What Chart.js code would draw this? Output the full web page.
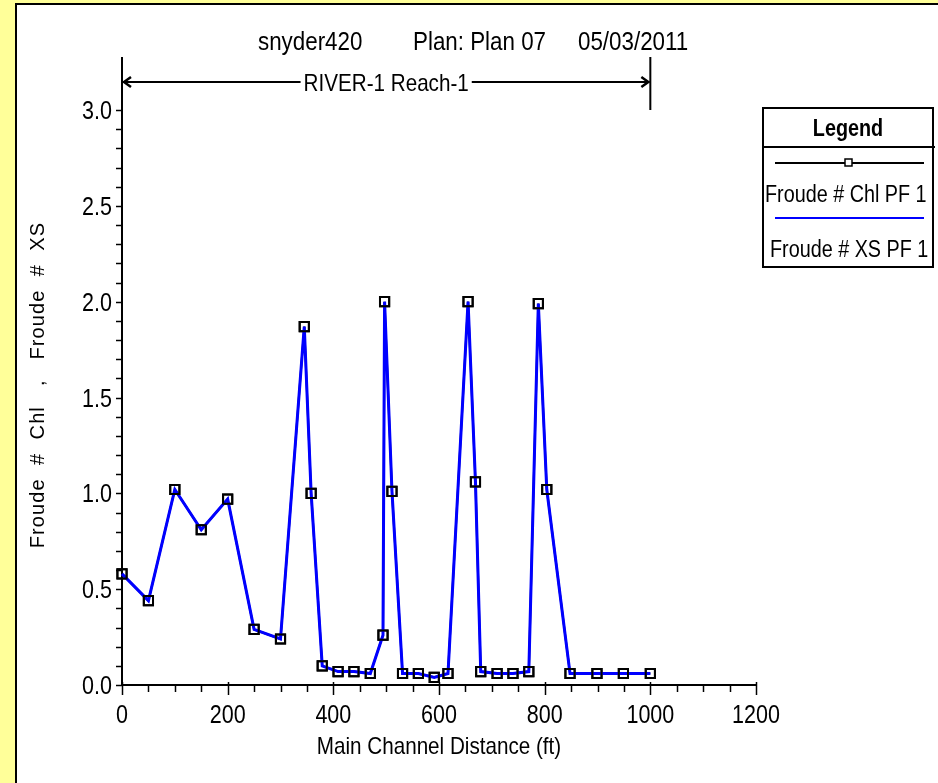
<!DOCTYPE html>
<html>
<head>
<meta charset="utf-8">
<script src="https://cdn.jsdelivr.net/npm/chart.js@4/dist/chart.umd.min.js"></script>
<style>
  html, body { margin: 0; padding: 0; }
  body { width: 938px; height: 783px; overflow: hidden; background: #ffff99; position: relative; }
  #panel { position: absolute; left: 15px; top: 3px; width: 1000px; height: 900px; background: #fff; border-left: 2px solid #000; border-top: 2px solid #000; }
  #chartCanvas { position: absolute; left: 0; top: 0; }
</style>
</head>
<body>
<div id="panel"></div>
<canvas id="chartCanvas" width="938" height="783"></canvas>
<script>
var distance = [0, 50, 100, 150, 200, 250, 300, 345, 358, 379, 409, 439, 470, 494, 497, 511,
  531, 561, 591, 617, 655, 669, 679, 710, 740, 770, 788, 804, 848, 899, 949, 1000];
var froudeChl = [0.58, 0.44, 1.02, 0.81, 0.97, 0.29, 0.24, 1.87, 1.00, 0.10, 0.07, 0.07, 0.06, 0.26, 2.00, 1.01,
  0.06, 0.06, 0.04, 0.06, 2.00, 1.06, 0.07, 0.06, 0.06, 0.07, 1.99, 1.02, 0.06, 0.06, 0.06, 0.06];
var froudeXs = [0.58, 0.44, 1.02, 0.81, 0.97, 0.29, 0.24, 1.87, 1.00, 0.10, 0.07, 0.07, 0.06, 0.26, 2.00, 1.01,
  0.06, 0.06, 0.04, 0.06, 2.00, 1.06, 0.07, 0.06, 0.06, 0.07, 1.99, 1.02, 0.06, 0.06, 0.06, 0.06];
var xTickValues = [0, 200, 400, 600, 800, 1000, 1200];
var xTickLabels = ['0', '200', '400', '600', '800', '1000', '1200'];
var yTickValues = [0, 0.5, 1, 1.5, 2, 2.5, 3];
var yTickLabels = ['0.0', '0.5', '1.0', '1.5', '2.0', '2.5', '3.0'];
var seriesNames = ['Froude # Chl PF 1', 'Froude # XS PF 1'];
var reachName = 'RIVER-1 Reach-1';
var reachStart = 0;
var reachEnd = 1000;
var titleParts = ['snyder420', 'Plan: Plan 07', '05/03/2011'];
var xTitle = 'Main Channel Distance (ft)';
var yTitle = 'Froude  #  Chl   ,   Froude  #  XS';

var SANS = "'Liberation Sans', Arial, sans-serif";
var SQUEEZE = 0.86;

function toPoints(xs, ys) {
  var out = [];
  for (var i = 0; i < xs.length; i += 1) out.push({ x: xs[i], y: ys[i] });
  return out;
}

// Arial Narrow is not installed, so squeeze Liberation Sans horizontally
function narrowText(ctx, text, x, y, size, align, bold) {
  ctx.save();
  ctx.font = (bold ? 'bold ' : '') + size + 'px ' + SANS;
  ctx.textAlign = align || 'left';
  ctx.textBaseline = 'alphabetic';
  ctx.translate(x, y);
  ctx.scale(SQUEEZE, 1);
  ctx.fillText(text, 0, 0);
  ctx.restore();
}

function narrowWidth(ctx, text, size) {
  ctx.save();
  ctx.font = size + 'px ' + SANS;
  var w = ctx.measureText(text).width * SQUEEZE;
  ctx.restore();
  return w;
}

var extras = {
  id: 'extras',
  afterDatasetsDraw: function (chart) {
    // channel markers sit above the blue line
    var ctx = chart.ctx;
    ctx.save();
    chart.getDatasetMeta(0).data.forEach(function (p) { p.draw(ctx); });
    ctx.restore();
  },
  afterDraw: function (chart) {
    var ctx = chart.ctx;
    var xs = chart.scales.x;
    var ys = chart.scales.y;
    var area = chart.chartArea;
    ctx.save();
    ctx.strokeStyle = '#000';
    ctx.fillStyle = '#000';

    // ticks
    ctx.lineWidth = 1.5;
    for (var v = 0; v <= 1200; v += 50) {
      var px = Math.round(xs.getPixelForValue(v)) + 0.5;
      var major = v % 200 === 0;
      ctx.beginPath();
      ctx.moveTo(px, area.bottom - (major ? 3 : 0));
      ctx.lineTo(px, area.bottom + (major ? 10 : 7));
      ctx.stroke();
    }
    for (var k = 0; k <= 30; k += 1) {
      var py = Math.round(ys.getPixelForValue(k / 10)) + 0.5;
      ctx.beginPath();
      ctx.moveTo(area.left - 6, py);
      ctx.lineTo(area.left, py);
      ctx.stroke();
    }

    // tick labels
    xTickValues.forEach(function (val, i) {
      narrowText(ctx, xTickLabels[i], xs.getPixelForValue(val), area.bottom + 38, 25, 'center');
    });
    yTickValues.forEach(function (val, i) {
      narrowText(ctx, yTickLabels[i], area.left - 10, ys.getPixelForValue(val) + 9, 25, 'right');
    });

    // title
    narrowText(ctx, titleParts[0], 258, 50, 26, 'left');
    narrowText(ctx, titleParts[1], 413, 50, 26, 'left');
    narrowText(ctx, titleParts[2], 578, 50, 26, 'left');

    // reach bracket
    var x0 = xs.getPixelForValue(reachStart);
    var x1 = xs.getPixelForValue(reachEnd);
    var by = 82;
    ctx.lineWidth = 2;
    ctx.beginPath();
    ctx.moveTo(x0, 57); ctx.lineTo(x0, area.top);
    ctx.moveTo(x1, 57); ctx.lineTo(x1, 110);
    ctx.stroke();
    var tw = narrowWidth(ctx, reachName, 24);
    var mid = (x0 + x1) / 2;
    ctx.beginPath();
    ctx.moveTo(x0 + 1, by); ctx.lineTo(mid - tw / 2 - 3, by);
    ctx.moveTo(mid + tw / 2 + 3, by); ctx.lineTo(x1 - 1, by);
    ctx.stroke();
    ctx.lineWidth = 2.5;
    ctx.beginPath();
    ctx.moveTo(x0 + 9, by - 5); ctx.lineTo(x0 + 2, by); ctx.lineTo(x0 + 9, by + 5);
    ctx.moveTo(x1 - 9, by - 5); ctx.lineTo(x1 - 2, by); ctx.lineTo(x1 - 9, by + 5);
    ctx.stroke();
    narrowText(ctx, reachName, mid, by + 9, 24, 'center');

    // axis titles
    narrowText(ctx, xTitle, (area.left + area.right) / 2, 754, 24, 'center');
    ctx.save();
    ctx.translate(38, 385);
    ctx.rotate(-Math.PI / 2);
    ctx.font = '20px ' + SANS;
    ctx.textAlign = 'center';
    ctx.textBaseline = 'middle';
    ctx.letterSpacing = '1.1px';
    ctx.fillText(yTitle, 0, 0);
    ctx.restore();

    // legend box
    var lx = 763, ly = 108, lw = 170, lh = 159;
    ctx.lineWidth = 2;
    ctx.strokeStyle = '#000';
    ctx.strokeRect(lx, ly, lw, lh);
    ctx.beginPath();
    ctx.moveTo(lx, 147); ctx.lineTo(lx + lw + 2, 147);
    ctx.stroke();
    narrowText(ctx, 'Legend', lx + lw / 2, 136, 23, 'center', true);
    ctx.beginPath();
    ctx.moveTo(775, 163); ctx.lineTo(924, 163);
    ctx.stroke();
    ctx.lineWidth = 1.5;
    ctx.fillStyle = '#fff';
    ctx.fillRect(845, 159, 7, 7);
    ctx.strokeRect(845, 159, 7, 7);
    ctx.fillStyle = '#000';
    ctx.strokeStyle = '#0000ff';
    ctx.lineWidth = 2;
    ctx.beginPath();
    ctx.moveTo(775, 218); ctx.lineTo(924, 218);
    ctx.stroke();
    narrowText(ctx, seriesNames[0], 765, 202, 23, 'left');
    narrowText(ctx, seriesNames[1], 770, 257, 23, 'left');
    ctx.restore();
  }
};

var chart = new Chart(document.getElementById('chartCanvas').getContext('2d'), {
  type: 'line',
  data: {
    datasets: [
      {
        label: seriesNames[0],
        data: toPoints(distance, froudeChl),
        borderColor: '#000',
        borderWidth: 2,
        pointStyle: 'rect',
        pointRadius: 6.5,
        pointBorderWidth: 2,
        pointBorderColor: '#000',
        pointBackgroundColor: 'rgba(0,0,0,0)',
        tension: 0,
        clip: false,
        order: 2,
      },
      {
        label: seriesNames[1],
        data: toPoints(distance, froudeXs),
        borderColor: '#0000ff',
        borderWidth: 3,
        pointRadius: 0,
        tension: 0,
        clip: false,
        order: 1,
      },
    ],
  },
  options: {
    responsive: false,
    animation: false,
    devicePixelRatio: 1,
    layout: { padding: { left: 0, top: 110, right: 182, bottom: 0 } },
    plugins: { legend: { display: false }, title: { display: false }, tooltip: { enabled: false } },
    scales: {
      x: {
        type: 'linear',
        min: 0,
        max: 1200,
        grid: { display: false, drawTicks: false },
        border: { display: true, color: '#000', width: 2 },
        ticks: { display: false, stepSize: 200 },
        afterFit: function (s) { s.height = 98; },
      },
      y: {
        min: 0,
        max: 3,
        grid: { display: false, drawTicks: false },
        border: { display: true, color: '#000', width: 2 },
        ticks: { display: false, stepSize: 0.5 },
        afterFit: function (s) { s.width = 122; },
      },
    },
  },
  plugins: [extras],
});
</script>
</body>
</html>
